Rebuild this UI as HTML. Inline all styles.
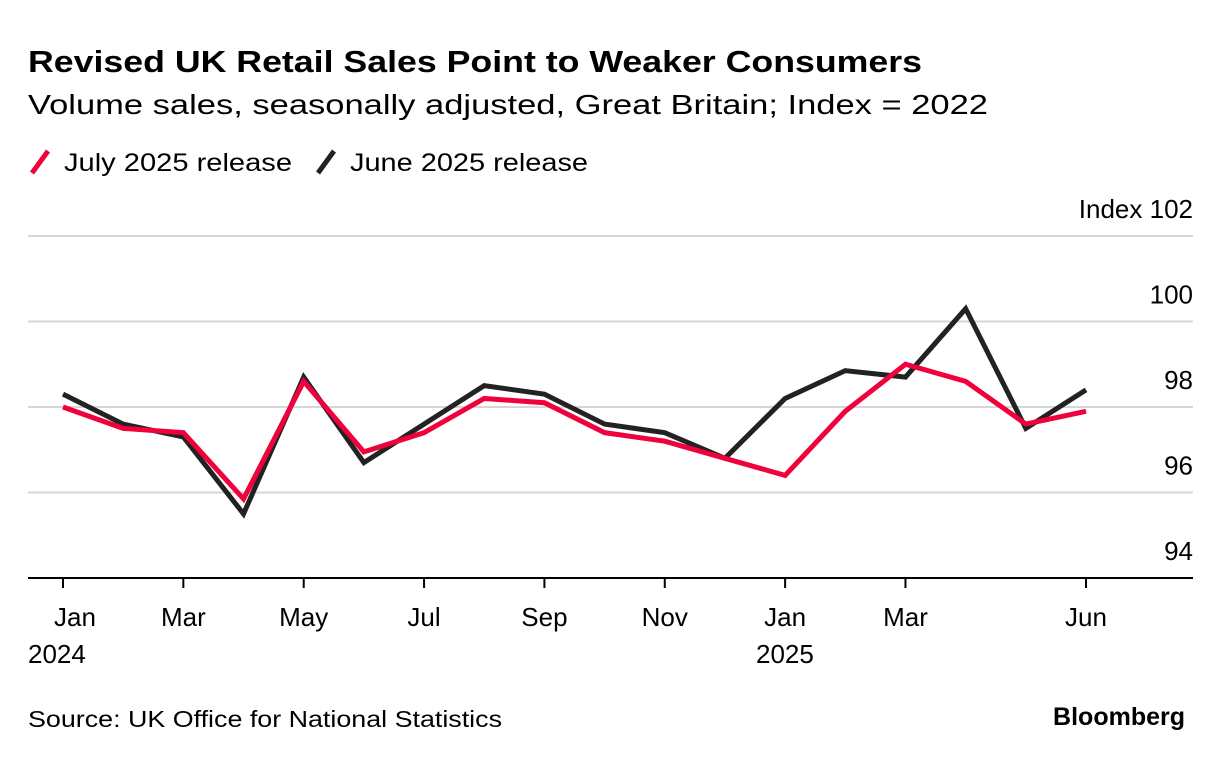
<!DOCTYPE html>
<html><head><meta charset="utf-8"><style>
body{margin:0;background:#fff;font-family:"Liberation Sans",sans-serif;}
svg text{font-family:"Liberation Sans",sans-serif;}
</style></head><body>
<svg id="c" width="1223" height="760" xmlns="http://www.w3.org/2000/svg">
<text x="28" y="72" font-size="31" font-weight="bold" fill="#000" textLength="894" lengthAdjust="spacingAndGlyphs">Revised UK Retail Sales Point to Weaker Consumers</text>
<text x="28" y="114" font-size="28" fill="#000" textLength="960" lengthAdjust="spacingAndGlyphs">Volume sales, seasonally adjusted, Great Britain; Index = 2022</text>
<g><line x1="32" y1="173" x2="48" y2="151" stroke="#f0003c" stroke-width="5"/><text x="64" y="171" font-size="25" textLength="228" lengthAdjust="spacingAndGlyphs">July 2025 release</text></g>
<g><line x1="318" y1="173" x2="334" y2="151" stroke="#222" stroke-width="5"/><text x="350" y="171" font-size="25" textLength="238" lengthAdjust="spacingAndGlyphs">June 2025 release</text></g>
<g id="grid"></g><g id="xaxis"></g><g id="lines"></g>
<text x="28" y="727" font-size="23" textLength="474" lengthAdjust="spacingAndGlyphs">Source: UK Office for National Statistics</text>
<text x="1185" y="725" font-size="25" font-weight="bold" text-anchor="end">Bloomberg</text>
</svg>
<script>
const months=["Jan","Feb","Mar","Apr","May","Jun","Jul","Aug","Sep","Oct","Nov","Dec","Jan","Feb","Mar","Apr","May","Jun"];
const julyRelease=[98.0,97.5,97.4,95.85,98.6,96.95,97.4,98.2,98.1,97.4,97.2,96.8,96.4,97.9,99.0,98.6,97.6,97.9];
const juneRelease=[98.3,97.6,97.3,95.5,98.7,96.7,97.6,98.5,98.3,97.6,97.4,96.8,98.2,98.85,98.7,100.3,97.5,98.4];
const yTicks=[94,96,98,100,102];
const xTickIdx=[0,2,4,6,8,10,12,14,17];
const NS="http://www.w3.org/2000/svg";
const x=i=>63+i*(1086-63)/17;
const y=v=>578-(v-94)*(578-236)/8;
function mk(t,a,p){const e=document.createElementNS(NS,t);for(const k in a)e.setAttribute(k,a[k]);p.appendChild(e);return e;}
const g=document.getElementById('grid');
yTicks.forEach(v=>{
 const l=mk('line',{x1:28,x2:1193,y1:y(v),y2:y(v),stroke:v===94?'#000':'#d6d6d6','stroke-width':2},g);
 
 
 const t=mk('text',{x:1193,y:y(v)-18,'font-size':26,'text-anchor':'end'},g);
 t.textContent=v===102?'Index 102':String(v);
 
 
});
const xa=document.getElementById('xaxis');
xTickIdx.forEach(i=>{
 const l=mk('line',{x1:x(i),x2:x(i),y1:578,y2:588,stroke:'#000','stroke-width':2},xa);
 
 
 const t=mk('text',{x:x(i)+(i===0?12:0),y:626,'font-size':26,'text-anchor':'middle'},xa);
 t.textContent=months[i];
 
 
 if(i===0||i===12){const yt=mk('text',{x:i===0?28:756,y:663,'font-size':26,'text-anchor':'start'},xa);
 yt.textContent=i===0?'2024':'2025';
 
 }
});
const L=document.getElementById('lines');
[[juneRelease,'#222','line-june-release'],[julyRelease,'#f0003c','line-july-release']].forEach(([d,c,n])=>{
 const p=mk('polyline',{points:d.map((v,i)=>x(i)+','+y(v)).join(' '),fill:'none',stroke:c,'stroke-width':5,'stroke-linejoin':'miter'},L);
 
 
});
</script>
</body></html>
